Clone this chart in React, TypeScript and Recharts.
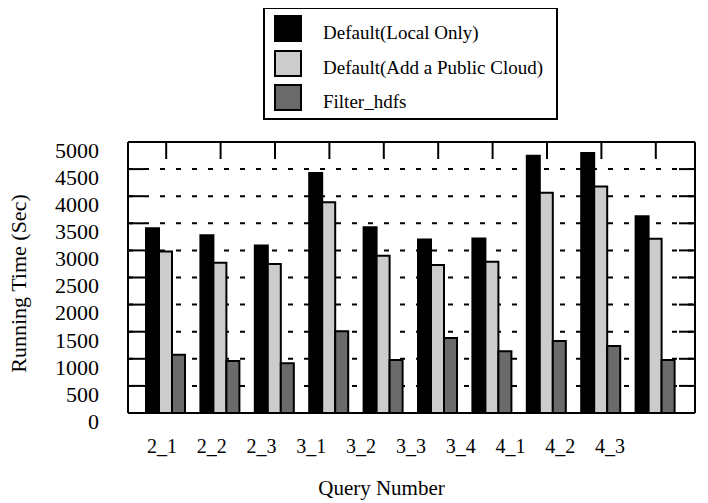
import React from 'react';
import {
  BarChart,
  Bar,
  XAxis,
  YAxis,
  CartesianGrid,
  Legend,
} from 'recharts';

const queries = ['2_1', '2_2', '2_3', '3_1', '3_2', '3_3', '3_4', '4_1', '4_2', '4_3'];
const localOnly = [3410, 3280, 3090, 4430, 3425, 3200, 3220, 4745, 4795, 3630];
const publicCloud = [2980, 2770, 2750, 3890, 2900, 2730, 2790, 4065, 4180, 3215];
const filterHdfs = [1075, 960, 920, 1510, 980, 1385, 1140, 1330, 1235, 980];
const yTicks = [0, 500, 1000, 1500, 2000, 2500, 3000, 3500, 4000, 4500, 5000];

const seriesNames = ['Default(Local Only)', 'Default(Add a Public Cloud)', 'Filter_hdfs'];
const seriesColors = ['#000000', '#cccccc', '#6b6b6b'];

const data = queries.map((q, i) => ({
  q,
  local: localOnly[i],
  cloud: publicCloud[i],
  hdfs: filterHdfs[i],
}));

const font = 'Liberation Serif, DejaVu Serif, serif';

const LegendBox = (props: any) => {
  const payload: any[] = props.payload ?? [];
  const items = seriesNames
    .map((n) => payload.find((p) => p.value === n))
    .filter(Boolean);
  return (
    <div
      style={{
        width: 291,
        height: 109,
        border: '2px solid #000',
        background: '#fff',
        position: 'relative',
        fontFamily: font,
        fontSize: 19,
        color: '#000',
      }}
    >
      {items.map((it: any, i: number) => (
        <div
          key={it.value}
          style={{
            position: 'absolute',
            left: 9,
            top: 6 + i * 34.5,
            display: 'flex',
            alignItems: 'center',
            whiteSpace: 'nowrap',
          }}
        >
          <span
            style={{
              width: 28,
              height: 27,
              boxSizing: 'border-box',
              background: it.color,
              border: '2px solid #000',
              display: 'inline-block',
            }}
          />
          <span style={{ marginLeft: 21, position: 'relative', top: 4, lineHeight: 1 }}>
            {it.value}
          </span>
        </div>
      ))}
    </div>
  );
};

const App = () => {
  return (
    <BarChart
      width={700}
      height={495}
      data={data}
      barCategoryGap={7}
      barGap={0}
      margin={{ top: 133, right: 12, left: 0, bottom: 0 }}
      style={{ fontFamily: font }}
    >
      <CartesianGrid
        xAxisId="top"
        vertical={false}
        stroke="#000"
        strokeWidth={2}
        strokeDasharray="5 11"
      />
      <XAxis
        xAxisId="top"
        dataKey="q"
        orientation="top"
        height={1}
        tickSize={-17}
        padding={{ left: 11, right: 12 }}
        tickFormatter={() => ''}
        axisLine={{ stroke: '#000', strokeWidth: 2 }}
        tickLine={{ stroke: '#000', strokeWidth: 2 }}
      />
      <XAxis
        xAxisId="bottom"
        dataKey="q"
        orientation="bottom"
        height={90}
        interval={0}
        tickLine={false}
        tickSize={6}
        tickMargin={20}
        padding={{ left: 9, right: 60 }}
        axisLine={{ stroke: '#000', strokeWidth: 2 }}
        tick={{ fill: '#000', fontSize: 20, fontFamily: font }}
        label={{
          value: 'Query Number',
          position: 'insideBottom',
          offset: 8,
          dx: -30,
          fill: '#000',
          fontSize: 21,
          fontFamily: font,
        }}
      />
      <YAxis
        domain={[0, 5000]}
        ticks={yTicks}
        interval={0}
        width={120}
        tickSize={-16}
        tickMargin={45}
        axisLine={{ stroke: '#000', strokeWidth: 2 }}
        tickLine={{ stroke: '#000', strokeWidth: 2 }}
        tick={{ fill: '#000', fontSize: 22, fontFamily: font, dy: 8 }}
        label={{
          value: 'Running Time (Sec)',
          angle: -90,
          position: 'insideLeft',
          offset: 10,
          dy: 6,
          fill: '#000',
          fontSize: 22,
          fontFamily: font,
          style: { textAnchor: 'middle' },
        }}
      />
      <YAxis
        yAxisId="right"
        orientation="right"
        width={1}
        domain={[0, 5000]}
        allowDataOverflow
        ticks={yTicks}
        interval={0}
        tickSize={-16}
        tickFormatter={() => ''}
        axisLine={{ stroke: '#000', strokeWidth: 2 }}
        tickLine={{ stroke: '#000', strokeWidth: 2 }}
      />
      <Legend
        layout="horizontal"
        verticalAlign="middle"
        align="center"
        wrapperStyle={{ top: -1, left: 255, width: 295, height: 113 }}
        content={<LegendBox />}
      />
      <Bar
        xAxisId="top"
        dataKey="local"
        name={seriesNames[0]}
        fill={seriesColors[0]}
        stroke="#000"
        strokeWidth={2}
        isAnimationActive={false}
      />
      <Bar
        xAxisId="top"
        dataKey="cloud"
        name={seriesNames[1]}
        fill={seriesColors[1]}
        stroke="#000"
        strokeWidth={2}
        isAnimationActive={false}
      />
      <Bar
        xAxisId="top"
        dataKey="hdfs"
        name={seriesNames[2]}
        fill={seriesColors[2]}
        stroke="#000"
        strokeWidth={2}
        isAnimationActive={false}
      />
    </BarChart>
  );
};

export default App;
